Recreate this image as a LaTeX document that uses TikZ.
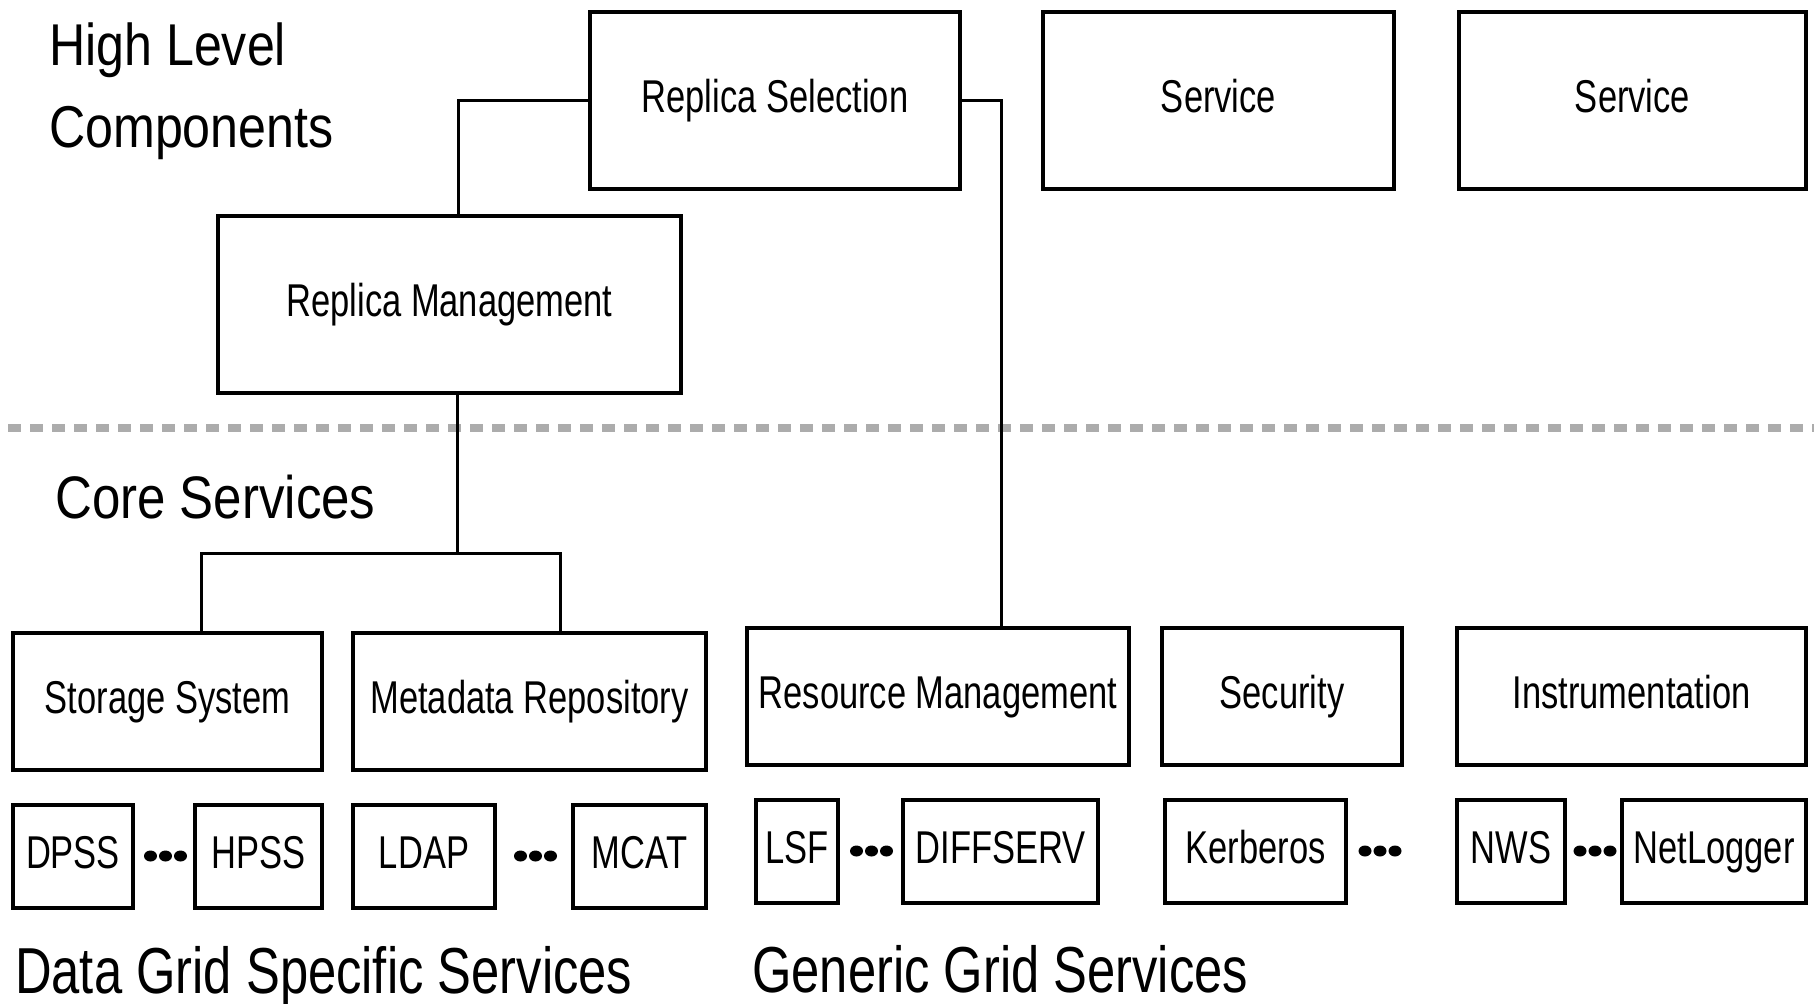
\documentclass[tikz,border=0pt]{standalone}
\usepackage{fontspec}
\setmainfont{Liberation Sans}
\newfontfamily\boxfont[FakeStretch=0.75]{Liberation Sans}
\newfontfamily\upperfont[FakeStretch=0.85]{Liberation Sans}
\newfontfamily\lowerfont[FakeStretch=0.78]{Liberation Sans}
\definecolor{sepgray}{RGB}{172,172,172}
\begin{document}
\begin{tikzpicture}[x=1pt,y=-1pt,
  comp/.style={draw=black, line width=4pt, fill=white, inner sep=0pt,
    text height=33pt, text depth=9pt,
    font=\boxfont\fontsize{46}{52}\selectfont},
  link/.style={draw=black, line width=3pt},
  title/.style={anchor=base west, inner sep=0pt},
  bigbox/.style={comp, minimum height=177pt},
  midbox/.style={comp, minimum height=137pt},
  smallbox/.style={comp, minimum height=103pt},
  dotmark/.style={fill=black}
]
% canvas
\fill[white] (0,0) rectangle (1818,1004);
\useasboundingbox (0,0) rectangle (1818,1004);

% layer separator
\draw[sepgray, line width=8pt, dash pattern=on 13pt off 9pt] (8,428) -- (1814,428);

% layer titles
\node[title, font=\upperfont\fontsize{59}{66}\selectfont] (t1) at (49,65) {High Level};
\node[title, font=\upperfont\fontsize{59}{66}\selectfont] (t2) at (49,147) {Components};
\node[title, font=\upperfont\fontsize{60}{66}\selectfont] (t3) at (55,518) {Core Services};
\node[title, font=\lowerfont\fontsize{65}{72}\selectfont] (t4) at (15,993) {Data Grid Specific Services};
\node[title, font=\lowerfont\fontsize{65}{72}\selectfont] (t5) at (752,992) {Generic Grid Services};

% high level components
\node[bigbox, minimum width=370pt] (rs)  at (775,100)    {Replica Selection};
\node[bigbox, minimum width=351pt] (sv1) at (1218.5,100) {Service};
\node[bigbox, minimum width=347pt] (sv2) at (1632.5,100) {Service};
\node[bigbox, minimum width=463pt] (rm)  at (449.5,304.5) {Replica Management};

% core services
\node[midbox, minimum width=309pt] (ss)   at (167.5,701) {Storage System};
\node[midbox, minimum width=353pt] (mr)   at (529.5,701) {Metadata Repository};
\node[midbox, minimum width=382pt] (resm) at (938,696.5) {Resource Management};
\node[midbox, minimum width=240pt] (sec)  at (1282,696.5) {Security};
\node[midbox, minimum width=349pt] (ins)  at (1631.5,696.5) {Instrumentation};

% data grid specific services
\node[smallbox, minimum width=120pt] (dpss) at (73,856.5)    {DPSS};
\node[smallbox, minimum width=127pt] (hpss) at (258.5,856.5) {HPSS};
\node[smallbox, minimum width=142pt] (ldap) at (424,856.5)   {LDAP};
\node[smallbox, minimum width=133pt] (mcat) at (639.5,856.5) {MCAT};

% generic grid services
\node[smallbox, minimum width=82pt]  (lsf)  at (797,851.5)    {LSF};
\node[smallbox, minimum width=195pt] (diff) at (1000.5,851.5) {DIFFSERV};
\node[smallbox, minimum width=181pt] (kerb) at (1255.5,851.5) {Kerberos};
\node[smallbox, minimum width=108pt] (nws)  at (1511,851.5)   {NWS};
\node[smallbox, minimum width=184pt] (netl) at (1714,851.5)   {NetLogger};

% ellipsis marks between alternatives
\foreach \cx/\cy in {165.5/856, 535.5/856, 871.5/851, 1380/851, 1595/851}{
  \foreach \d in {-15,0,15}{
    \fill[dotmark] (\cx+\d,\cy) ellipse [x radius=6.5pt, y radius=5.5pt];
  }
}

% connectors
\coordinate (j1) at (458,100);
\coordinate (j2) at (1001,100);
\coordinate (j3) at (457,553);
\coordinate (bl) at (201,553);
\coordinate (br) at (560,553);

\draw[link] (rs.west) -- (j1) -- (j1 |- rm.north);
\draw[link] (rs.east) -- (j2) -- (j2 |- resm.north);
\draw[link] (j3 |- rm.south) -- (j3);
\draw[link] (bl |- ss.north) -- (bl) -- (br) -- (br |- mr.north);
\end{tikzpicture}
\end{document}
